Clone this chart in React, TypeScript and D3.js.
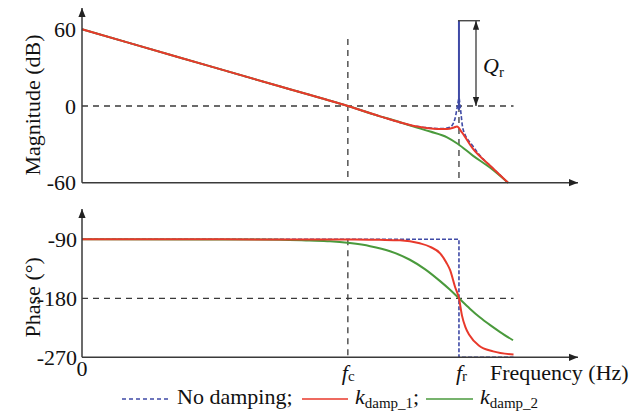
import React from "react";
import * as d3 from "d3";

const W = 632;
const H = 416;

// x positions on a normalised log-frequency axis (0..100)
const FC = 53.6;
const FR = 76.0;
const X_END = 87.0;
const Q_PEAK = 66.7;

const magTicks = [60, 0, -60];
const phaseTicks = [-90, -180, -270];

// Magnitude (dB)
const magDamp1: [number, number][] = [
  [0, 60], [20, 37.6], [40, 15.2], [53.6, 0], [60.1, -8.1], [66.7, -15.4],
  [69.5, -17.2], [71.6, -18.0], [73.6, -18.0], [75.0, -16.8], [75.6, -16.0],
  [76.6, -20.7], [78.8, -33.4], [82.3, -46.7], [85.9, -60],
];
const magDamp2: [number, number][] = [
  [0, 60], [20, 37.6], [40, 15.2], [53.6, 0], [60.1, -8.1], [63, -11.3],
  [66.7, -15.9], [70.2, -20.0], [73.6, -24.5], [75.8, -29.7], [78.8, -38.8],
  [82.3, -48.3], [85.9, -60],
];
const magNoDampLeft: [number, number][] = [
  [0, 60], [20, 37.6], [40, 15.2], [53.6, 0], [60.1, -8.1], [66.7, -15.4],
  [69.5, -17.0], [71.6, -17.6], [72.8, -17.6], [74.2, -16.6], [75.2, -10.0],
  [75.6, -2.0], [75.95, 6],
];
const magNoDampRight: [number, number][] = [
  [76.05, 6], [76.3, -2.0], [76.8, -17.8], [78.8, -31.3], [80.5, -40],
  [82.3, -46.7], [85.9, -60],
];

// Phase (deg)
const phDamp1: [number, number][] = [
  [0, -90], [55, -90.3], [60, -90.8], [64.1, -91.4], [68.1, -96.1],
  [70.2, -101.5], [72.2, -111.4], [73.5, -126], [74.2, -136.8], [75.2, -162.3],
  [76.0, -180], [76.6, -206], [77.3, -224], [78.1, -236], [80.0, -252],
  [82.9, -261], [87.0, -265.8],
];
const phDamp2: [number, number][] = [
  [0, -90], [40, -90.6], [45.8, -91.8], [50.0, -92.9], [54.0, -95.8],
  [58.1, -100.5], [62.1, -108.2], [66.1, -121.2], [69.2, -135.8],
  [72.2, -153.8], [74.2, -167.0], [76.0, -180], [78.2, -195.8],
  [80.2, -209.0], [82.3, -221.0], [84.3, -231.5], [86.9, -244.0],
];
const phNoDamp: [number, number][] = [
  [0, -90], [76, -90], [76, -270], [87, -270],
];

const RED = "#e8392b";
const GREEN = "#4a9a3c";
const BLUE = "#3f4aa6";
const AX = "#3a3a3a";
const FONT = "'Liberation Serif', 'Times New Roman', serif";

export default function App() {
  const x = d3.scaleLinear().domain([0, 100]).range([82, 578]);
  const yMag = d3.scaleLinear().domain([-60, 60]).range([182.7, 29.3]);
  const yPh = d3.scaleLinear().domain([-270, -90]).range([357.3, 239.3]);

  const lineMag = d3
    .line<[number, number]>()
    .x((d) => x(d[0]))
    .y((d) => yMag(d[1]))
    .curve(d3.curveMonotoneX);
  const linePh = d3
    .line<[number, number]>()
    .x((d) => x(d[0]))
    .y((d) => yPh(d[1]))
    .curve(d3.curveMonotoneX);
  const linePhLin = d3
    .line<[number, number]>()
    .x((d) => x(d[0]))
    .y((d) => yPh(d[1]));

  const x0 = x(0);
  const xAxisEnd = 578;
  const dash = "6 5";

  return (
    <svg width={W} height={H} style={{ display: "block", position: "absolute", left: 0, top: 0 }} fontFamily={FONT}>
      <defs>
        <marker id="ah" viewBox="0 0 10 10" refX="10" refY="5" markerWidth="9" markerHeight="9" markerUnits="userSpaceOnUse" orient="auto">
          <path d="M0,1 L10,5 L0,9 Z" fill="#222" />
        </marker>
        <marker id="ahs" viewBox="0 0 10 10" refX="10" refY="5" markerWidth="9" markerHeight="9" markerUnits="userSpaceOnUse" orient="auto-start-reverse">
          <path d="M0,1.5 L10,5 L0,8.5 Z" fill="#222" />
        </marker>
      </defs>
      <rect width={W} height={H} fill="#fff" />

      {/* ---------- Magnitude panel ---------- */}
      <line x1={x0} x2={x(X_END)} y1={yMag(0)} y2={yMag(0)} stroke={AX} strokeWidth={1.3} strokeDasharray={dash} />
      <line x1={x(FC)} x2={x(FC)} y1={yMag(52.5)} y2={yMag(-60)} stroke={AX} strokeWidth={1.3} strokeDasharray={dash} />
      <line x1={x(FR)} x2={x(FR)} y1={yMag(0)} y2={yMag(-60)} stroke={AX} strokeWidth={1.3} strokeDasharray={dash} />

      <path d={lineMag(magNoDampLeft) ?? ""} fill="none" stroke={BLUE} strokeWidth={1.6} strokeDasharray="4 2" />
      <path d={lineMag(magNoDampRight) ?? ""} fill="none" stroke={BLUE} strokeWidth={1.6} strokeDasharray="4 2" />
      <line x1={x(FR)} x2={x(FR)} y1={yMag(-3)} y2={yMag(Q_PEAK)} stroke={BLUE} strokeWidth={2} />
      <path d={lineMag(magDamp2) ?? ""} fill="none" stroke={GREEN} strokeWidth={2} />
      <path d={lineMag(magDamp1) ?? ""} fill="none" stroke={RED} strokeWidth={2} />

      {/* Q_r annotation */}
      <line x1={x(FR) - 1} x2={480} y1={yMag(Q_PEAK)} y2={yMag(Q_PEAK)} stroke={AX} strokeWidth={1.3} />
      <line x1={476} x2={476} y1={yMag(Q_PEAK)} y2={yMag(0)} stroke={AX} strokeWidth={1.3} markerStart="url(#ahs)" markerEnd="url(#ahs)" />
      <text x={483} y={73} fontSize={22} fontStyle="italic" fill="#111">Q</text>
      <text x={499} y={77} fontSize={15} fill="#111">r</text>

      {/* axes */}
      <line x1={x0} x2={x0} y1={yMag(-60)} y2={8} stroke={AX} strokeWidth={1.5} markerEnd="url(#ah)" />
      <line x1={x0} x2={xAxisEnd} y1={yMag(-60)} y2={yMag(-60)} stroke={AX} strokeWidth={1.5} markerEnd="url(#ah)" />
      {magTicks.map((t) => (
        <text key={t} x={76} y={yMag(t)} dy="0.35em" textAnchor="end" fontSize={22} fill="#111">
          {t}
        </text>
      ))}
      <text transform={`translate(40,${yMag(0) - 1}) rotate(-90)`} textAnchor="middle" fontSize={22} fill="#111">
        Magnitude (dB)
      </text>

      {/* ---------- Phase panel ---------- */}
      <line x1={x0} x2={x(X_END)} y1={yPh(-180)} y2={yPh(-180)} stroke={AX} strokeWidth={1.3} strokeDasharray={dash} />
      <line x1={x(FC)} x2={x(FC)} y1={yPh(-90)} y2={yPh(-270)} stroke={AX} strokeWidth={1.3} strokeDasharray={dash} />

      <path d={linePhLin(phNoDamp) ?? ""} fill="none" stroke={BLUE} strokeWidth={1.6} strokeDasharray="4 2" />
      <path d={linePh(phDamp2) ?? ""} fill="none" stroke={GREEN} strokeWidth={2} />
      <path d={linePh(phDamp1) ?? ""} fill="none" stroke={RED} strokeWidth={2} />

      <line x1={x0} x2={x0} y1={yPh(-270)} y2={209} stroke={AX} strokeWidth={1.5} markerEnd="url(#ah)" />
      <line x1={x0} x2={xAxisEnd} y1={yPh(-270)} y2={yPh(-270)} stroke={AX} strokeWidth={1.5} markerEnd="url(#ah)" />
      {phaseTicks.map((t) => (
        <text key={t} x={77} y={yPh(t)} dy="0.35em" textAnchor="end" fontSize={22} fill="#111">
          {t}
        </text>
      ))}
      <text transform={`translate(40,${yPh(-180) - 1}) rotate(-90)`} textAnchor="middle" fontSize={22} fill="#111">
        Phase (°)
      </text>

      {/* x labels */}
      <text x={x0} y={376} textAnchor="middle" fontSize={22} fill="#111">0</text>
      <text x={x(FC) - 6} y={380} fontSize={22} fill="#111">
        <tspan fontStyle="italic">f</tspan>
        <tspan fontSize={15} dy={1}>c</tspan>
      </text>
      <text x={x(FR) - 3} y={380} fontSize={22} fill="#111">
        <tspan fontStyle="italic">f</tspan>
        <tspan fontSize={15} dy={1}>r</tspan>
      </text>
      <text x={490} y={380} fontSize={22} fill="#111">Frequency (Hz)</text>

      {/* legend */}
      <line x1={122} x2={168} y1={399} y2={399} stroke={BLUE} strokeWidth={1.3} strokeDasharray="4 3" />
      <text x={177} y={404} fontSize={22} fill="#111">No damping;</text>
      <line x1={302} x2={348} y1={399} y2={399} stroke={RED} strokeWidth={1.5} />
      <text x={355} y={404} fontSize={22} fill="#111">
        <tspan fontStyle="italic">k</tspan>
        <tspan fontSize={15} dy={4}>damp_1</tspan>
        <tspan dy={-4}>;</tspan>
      </text>
      <line x1={426} x2={473} y1={399} y2={399} stroke={GREEN} strokeWidth={1.5} />
      <text x={480} y={404} fontSize={22} fill="#111">
        <tspan fontStyle="italic">k</tspan>
        <tspan fontSize={15} dy={4}>damp_2</tspan>
      </text>
    </svg>
  );
}
